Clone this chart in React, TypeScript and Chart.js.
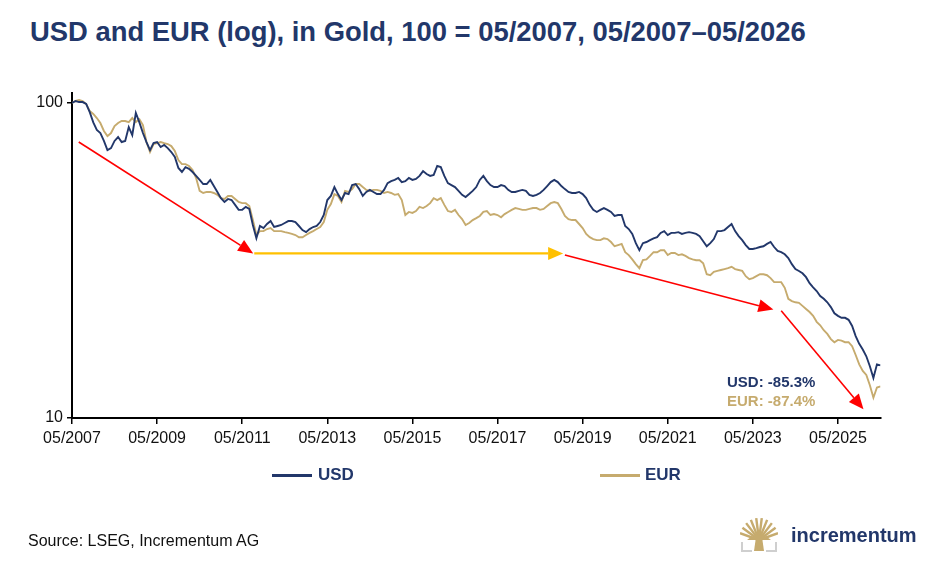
import React, { useEffect, useRef } from "react";
import { Chart, registerables } from "chart.js";

Chart.register(...registerables);

// ---- Data (monthly, 05/2007 = index 0, 100 = 05/2007) ----
const START_YEAR = 2007;
const START_MONTH = 5;

const usdValues = [
  100, 101.5, 100.7, 100.7, 99.3, 93.6, 86.8, 82.1, 80.3, 75.8, 70.9, 71.9,
  75.8, 78.0, 75.2, 75.8, 83.9, 79.1, 93.0, 86.8, 80.3, 75.2, 70.9, 74.6,
  75.2, 72.5, 73.6, 71.9, 69.9, 67.4, 62.2, 60.4, 62.6, 61.8, 60.4, 58.7,
  57.0, 55.3, 55.3, 57.0, 54.5, 52.2, 49.9, 48.5, 49.6, 49.2, 47.5, 45.8,
  45.8, 46.8, 46.1, 41.0, 37.2, 40.7, 40.1, 41.3, 42.2, 40.4, 40.7, 41.0,
  41.6, 42.2, 42.2, 41.9, 40.7, 39.5, 38.9, 39.8, 40.4, 40.7, 41.9, 44.1,
  49.2, 50.7, 54.1, 51.4, 49.2, 51.8, 51.4, 54.9, 55.3, 53.3, 50.7, 52.2,
  53.0, 52.2, 51.4, 51.4, 53.0, 55.7, 56.5, 57.0, 57.8, 56.1, 56.5, 57.8,
  57.0, 57.4, 58.7, 60.8, 59.5, 58.7, 59.1, 63.1, 62.6, 58.7, 55.7, 54.9,
  54.1, 52.6, 51.1, 50.3, 51.4, 52.6, 54.1, 57.0, 58.7, 56.5, 54.9, 54.1,
  54.1, 54.9, 54.5, 53.0, 52.2, 52.2, 52.6, 53.0, 52.6, 51.1, 50.7, 51.1,
  51.8, 53.0, 54.5, 56.1, 57.0, 56.1, 54.5, 53.3, 52.2, 51.8, 51.8, 52.2,
  51.4, 49.9, 47.5, 45.8, 45.1, 45.8, 46.4, 45.8, 45.1, 43.8, 44.1, 44.1,
  40.7, 39.8, 38.4, 35.9, 34.1, 35.9, 36.2, 36.7, 37.2, 37.5, 38.7, 39.2,
  38.1, 38.7, 38.7, 38.9, 38.4, 38.7, 38.9, 38.7, 38.4, 37.8, 36.4, 35.1,
  35.9, 37.0, 39.2, 39.2, 39.5, 40.4, 41.3, 39.2, 37.8, 36.7, 35.4, 34.4,
  34.4, 34.6, 34.9, 35.1, 35.7, 36.2, 34.9, 33.9, 33.6, 33.1, 32.2, 30.8,
  29.7, 29.3, 28.8, 28.0, 26.8, 26.0, 25.3, 24.4, 23.9, 23.3, 22.5, 21.5,
  21.1, 20.8, 20.8, 20.5, 19.6, 18.2, 17.2, 16.5, 15.7, 14.6, 13.4, 14.8,
  14.7,
];

const eurValues = [
  100, 101.5, 102.2, 101.5, 99.3, 94.3, 92.3, 89.6, 86.4, 81.5, 78.5, 80.3,
  84.5, 86.4, 87.7, 87.7, 87.0, 89.6, 87.0, 88.9, 85.1, 75.2, 69.9, 74.1,
  74.6, 75.2, 74.6, 74.1, 73.0, 70.4, 65.9, 64.0, 64.0, 63.1, 61.3, 57.8,
  52.6, 51.8, 52.2, 52.2, 51.8, 51.1, 49.9, 49.6, 50.7, 50.7, 49.6, 48.5,
  48.1, 48.1, 47.1, 42.5, 38.1, 39.2, 39.2, 39.8, 40.1, 39.2, 39.2, 39.2,
  38.9, 38.7, 38.4, 38.1, 37.5, 37.5, 38.1, 38.7, 39.2, 39.8, 40.4, 41.9,
  45.8, 47.8, 51.4, 50.7, 48.5, 52.6, 52.2, 53.3, 55.3, 55.3, 54.1, 53.0,
  52.6, 53.0, 53.0, 52.6, 51.8, 52.2, 51.8, 51.1, 51.4, 49.2, 44.1, 45.1,
  44.8, 45.4, 46.8, 46.4, 47.1, 48.1, 49.9, 49.2, 49.9, 47.5, 45.4, 45.1,
  45.8, 44.1, 42.8, 41.0, 41.6, 42.5, 43.1, 43.8, 45.1, 45.4, 44.1, 44.4,
  44.1, 43.4, 44.4, 45.1, 45.8, 46.4, 46.1, 45.8, 45.8, 46.1, 46.4, 46.4,
  45.8, 46.1, 47.1, 48.1, 48.5, 48.1, 46.1, 43.8, 42.8, 42.5, 42.5, 41.3,
  40.1, 38.4, 37.5, 37.0, 36.7, 36.7, 37.2, 37.0, 36.2, 35.1, 35.4, 35.7,
  33.6, 32.9, 31.9, 30.8, 29.9, 31.7, 31.9, 32.7, 33.6, 33.6, 34.1, 34.1,
  32.9, 33.4, 33.4, 32.9, 33.1, 32.7, 32.2, 31.9, 31.7, 31.7, 31.0, 28.6,
  28.4, 29.1, 29.3, 29.5, 29.7, 29.9, 30.2, 29.7, 29.5, 29.3, 28.2, 27.6,
  27.8, 28.2, 28.6, 28.6, 28.4, 27.8, 27.0, 27.0, 27.0, 25.9, 23.9, 23.5,
  23.3, 23.2, 22.7, 22.2, 21.7, 21.1, 20.2, 19.7, 19.0, 18.5, 17.8, 17.4,
  17.7, 17.6, 17.4, 17.4, 16.9, 15.85, 14.8, 14.1, 13.7, 12.7, 11.6, 12.5,
  12.6,
];

const seriesNames = ["USD", "EUR"];
const xTickMonths = [0, 24, 48, 72, 96, 120, 144, 168, 192, 216];
const yTickValues = [10, 100];
const endLabels = ["USD: -85.3%", "EUR: -87.4%"];

// Arrows in data space: month index and index value
const arrowStartX = [1.9, 51.4, 139.0, 200.0];
const arrowStartY = [75.2, 33.3, 32.9, 21.9];
const arrowEndX = [51.1, 138.5, 197.8, 223.2];
const arrowEndY = [33.3, 33.3, 22.1, 10.66];
const arrowColors = ["#FF0000", "#FFC000", "#FF0000", "#FF0000"];
const arrowWidths = [1.6, 2.2, 1.6, 1.6];

const NAVY = "#22376A";
const GOLD = "#C6AB6E";
const FONT = "Arial, 'Liberation Sans', sans-serif";

function monthLabel(i: number): string {
  const m = START_MONTH - 1 + i;
  const y = START_YEAR + Math.floor(m / 12);
  const mm = (m % 12) + 1;
  return `${String(mm).padStart(2, "0")}/${y}`;
}

const arrowPlugin = {
  id: "arrows",
  afterDatasetsDraw(chart: any) {
    const xs = chart.scales.x;
    const ys = chart.scales.y;
    const ctx = chart.ctx;
    ctx.save();
    for (let k = 0; k < arrowStartX.length; k++) {
      const x0 = xs.getPixelForValue(arrowStartX[k]);
      const y0 = ys.getPixelForValue(arrowStartY[k]);
      const x1 = xs.getPixelForValue(arrowEndX[k]);
      const y1 = ys.getPixelForValue(arrowEndY[k]);
      const ang = Math.atan2(y1 - y0, x1 - x0);
      const headLen = 15;
      const headHalf = 6.5;
      const bx = x1 - headLen * Math.cos(ang);
      const by = y1 - headLen * Math.sin(ang);
      ctx.strokeStyle = arrowColors[k];
      ctx.fillStyle = arrowColors[k];
      ctx.lineWidth = arrowWidths[k];
      ctx.beginPath();
      ctx.moveTo(x0, y0);
      ctx.lineTo(bx, by);
      ctx.stroke();
      ctx.beginPath();
      ctx.moveTo(x1, y1);
      ctx.lineTo(bx + headHalf * Math.sin(ang), by - headHalf * Math.cos(ang));
      ctx.lineTo(bx - headHalf * Math.sin(ang), by + headHalf * Math.cos(ang));
      ctx.closePath();
      ctx.fill();
    }
    ctx.restore();
  },
};

function Logo() {
  const rays = [-72, -56, -40, -24, -8, 8, 24, 40, 56, 72];
  return (
    <svg width="38" height="36" viewBox="0 0 38 36" style={{ position: "absolute", left: 740, top: 516 }}>
      {rays.map((a, i) => {
        const r = (a * Math.PI) / 180;
        return (
          <line
            key={i}
            x1={19}
            y1={24}
            x2={19 + 20 * Math.sin(r)}
            y2={24 - 22 * Math.cos(r)}
            stroke={GOLD}
            strokeWidth={2.4}
          />
        );
      })}
      <path d="M7 24 Q19 14 31 24 Z" fill={GOLD} />
      <path d="M14 35 L16 21 L22 21 L24 35 Z" fill={GOLD} />
      <path d="M2 26 L2 35 L12 35" stroke="#CFCFCF" strokeWidth={2} fill="none" />
      <path d="M36 26 L36 35 L26 35" stroke="#CFCFCF" strokeWidth={2} fill="none" />
    </svg>
  );
}

export default function App() {
  const canvasRef = useRef<HTMLCanvasElement | null>(null);

  useEffect(() => {
    if (!canvasRef.current) return;
    const chart = new Chart(canvasRef.current, {
      type: "line",
      data: {
        datasets: [
          {
            label: seriesNames[0],
            data: usdValues.map((v, i) => ({ x: i, y: v })),
            borderColor: NAVY,
            borderWidth: 1.9,
            pointRadius: 0,
            tension: 0,
          },
          {
            label: seriesNames[1],
            data: eurValues.map((v, i) => ({ x: i, y: v })),
            borderColor: GOLD,
            borderWidth: 1.9,
            pointRadius: 0,
            tension: 0,
          },
        ],
      },
      options: {
        animation: false,
        responsive: true,
        maintainAspectRatio: false,
        layout: { padding: { left: 0, top: 92.5, right: 67.5, bottom: 0 } },
        plugins: {
          legend: { display: false },
          tooltip: { enabled: false },
          title: { display: false },
        },
        scales: {
          x: {
            type: "linear",
            min: 0,
            max: usdValues.length - 1,
            afterBuildTicks: (s: any) => {
              s.ticks = xTickMonths.map((v) => ({ value: v }));
            },
            afterFit: (s: any) => {
              s.height = 164;
            },
            ticks: {
              autoSkip: false,
              maxRotation: 0,
              minRotation: 0,
              padding: 5,
              color: "#111",
              font: { family: FONT, size: 16 },
              callback: (v: any) => monthLabel(Number(v)),
            },
            grid: {
              display: true,
              drawOnChartArea: false,
              drawTicks: true,
              tickLength: 6,
              color: "#000",
              lineWidth: 1.5,
            },
            border: { display: true, color: "#000", width: 2 },
          },
          y: {
            type: "logarithmic",
            min: 10,
            max: 108,
            afterBuildTicks: (s: any) => {
              s.ticks = yTickValues.map((v) => ({ value: v }));
            },
            afterFit: (s: any) => {
              s.width = 72;
            },
            ticks: {
              padding: 4,
              color: "#111",
              font: { family: FONT, size: 16 },
              callback: (v: any) => String(v),
            },
            grid: {
              display: true,
              drawOnChartArea: false,
              drawTicks: true,
              tickLength: 5,
              color: "#000",
              lineWidth: 1.5,
            },
            border: { display: true, color: "#000", width: 2 },
          },
        },
      },
      plugins: [arrowPlugin],
    } as any);
    return () => chart.destroy();
  }, []);

  return (
    <div
      style={{
        position: "absolute",
        left: 0,
        top: 0,
        width: 948,
        height: 582,
        background: "#fff",
        fontFamily: FONT,
        overflow: "hidden",
      }}
    >
      <div
        style={{
          position: "absolute",
          left: 30,
          top: 18,
          fontSize: 27.4,
          lineHeight: "27px",
          fontWeight: "bold",
          color: NAVY,
          whiteSpace: "nowrap",
        }}
      >
        USD and EUR (log), in Gold, 100 = 05/2007, 05/2007–05/2026
      </div>
      <div style={{ position: "absolute", left: 0, top: 0, width: 948, height: 582 }}>
        <canvas ref={canvasRef} />
      </div>
      <div
        style={{
          position: "absolute",
          left: 727,
          top: 372,
          fontSize: 15,
          lineHeight: "19px",
          fontWeight: "bold",
          whiteSpace: "nowrap",
        }}
      >
        <div style={{ color: NAVY }}>{endLabels[0]}</div>
        <div style={{ color: GOLD }}>{endLabels[1]}</div>
      </div>
      <div style={{ position: "absolute", left: 272, top: 474, width: 40, height: 2.5, background: NAVY }} />
      <div
        style={{ position: "absolute", left: 318, top: 466, fontSize: 17, lineHeight: "18px", fontWeight: "bold", color: NAVY }}
      >
        {seriesNames[0]}
      </div>
      <div style={{ position: "absolute", left: 600, top: 474, width: 40, height: 2.5, background: GOLD }} />
      <div
        style={{ position: "absolute", left: 645, top: 466, fontSize: 17, lineHeight: "18px", fontWeight: "bold", color: NAVY }}
      >
        {seriesNames[1]}
      </div>
      <div
        style={{ position: "absolute", left: 28, top: 533, fontSize: 16, lineHeight: "16px", color: "#111", whiteSpace: "nowrap" }}
      >
        Source: LSEG, Incrementum AG
      </div>
      <Logo />
      <div
        style={{ position: "absolute", left: 791, top: 524, fontSize: 20, lineHeight: "22px", fontWeight: "bold", color: NAVY }}
      >
        incrementum
      </div>
    </div>
  );
}
